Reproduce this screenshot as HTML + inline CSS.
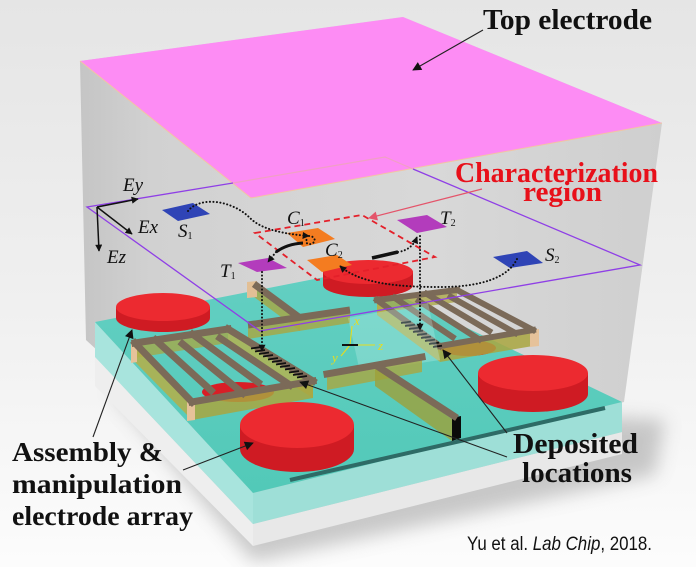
<!DOCTYPE html>
<html><head><meta charset="utf-8">
<style>
html,body{margin:0;padding:0;background:#f2f2f2;}
svg{display:block;}
</style></head>
<body>
<svg width="696" height="567" viewBox="0 0 696 567" xmlns="http://www.w3.org/2000/svg">
<defs>
 <linearGradient id="bg" x1="0" y1="0" x2="0" y2="1">
   <stop offset="0" stop-color="#e5e5e5"/>
   <stop offset="0.5" stop-color="#efefef"/>
   <stop offset="1" stop-color="#fcfcfc"/>
 </linearGradient>
 <linearGradient id="wall" x1="80" y1="0" x2="662" y2="0" gradientUnits="userSpaceOnUse">
   <stop offset="0" stop-color="#c5c5c5"/>
   <stop offset="0.12" stop-color="#d1d1d1"/>
   <stop offset="0.6" stop-color="#d8d8d8"/>
   <stop offset="1" stop-color="#cfcfcf"/>
 </linearGradient>
 <linearGradient id="cy" x1="0" y1="0" x2="0" y2="1">
   <stop offset="0" stop-color="#63cfc2"/>
   <stop offset="1" stop-color="#52c9b8"/>
 </linearGradient>
 <filter id="blur" x="-20%" y="-20%" width="140%" height="140%"><feGaussianBlur stdDeviation="9"/></filter>
 <marker id="ab" viewBox="0 0 10 10" refX="9" refY="5" markerWidth="11" markerHeight="9" markerUnits="userSpaceOnUse" orient="auto"><path d="M0,0 L10,5 L0,10 z" fill="#111"/></marker>
 <marker id="as" viewBox="0 0 10 10" refX="9" refY="5" markerWidth="8" markerHeight="7" markerUnits="userSpaceOnUse" orient="auto"><path d="M0,0 L10,5 L0,10 z" fill="#111"/></marker>
 <marker id="ap" viewBox="0 0 10 10" refX="9" refY="5" markerWidth="11" markerHeight="9" markerUnits="userSpaceOnUse" orient="auto"><path d="M0,0 L10,5 L0,10 z" fill="#e4546a"/></marker>
</defs>

<!-- background -->
<rect x="0" y="0" width="696" height="567" fill="url(#bg)"/>

<!-- shadow -->
<polygon points="110,390 253,562 655,475 665,420" fill="#8c8c8c" opacity="0.45" filter="url(#blur)"/>

<!-- box walls -->
<polygon points="80,61 403,17 662,123 624,402 253,493 86,340" fill="url(#wall)"/>

<!-- pink top electrode -->
<polygon points="80,61 403,17 662,123 251,198" fill="#fd8cf4"/>
<polyline points="80,61 251,198 662,123" fill="none" stroke="#f2c4a4" stroke-width="1"/>
<polyline points="233,183 385,157 413,169" fill="none" stroke="#f0a0c4" stroke-width="1.2"/>

<!-- slab -->
<polygon points="95,357 253,524 253,546 95,386" fill="#eeeeee"/>
<polygon points="253,524 622,432 622,454 253,546" fill="#e8e8e8"/>
<polygon points="95,322 253,493 253,524 95,357" fill="#a8e4dd"/>
<polygon points="253,493 622,402 622,432 253,524" fill="#9edfd7"/>
<polygon points="95,322 350,272 622,402 253,493" fill="url(#cy)"/>
<line x1="290" y1="480" x2="605" y2="408" stroke="#2e6b66" stroke-width="4"/>

<!-- back disc D2 -->
<path d="M323,272 L323,285 A45,12 0 0 0 413,285 L413,272 Z" fill="#cf1b23"/>
<ellipse cx="368" cy="272" rx="45" ry="12" fill="#ec2a30"/>

<!-- back T electrode -->
<polygon points="254,284 300,318 300,331 254,297" fill="#a9a640" opacity="0.8"/>
<polygon points="247,282 257,281 257,297 247,298" fill="#e2bf95"/>
<line x1="254" y1="284" x2="300" y2="318" stroke="#7b6a58" stroke-width="7"/>
<polygon points="248,325 350,310 350,323 248,339" fill="#aaa640" opacity="0.8"/>
<line x1="248" y1="325" x2="350" y2="310" stroke="#7b6a58" stroke-width="7"/>

<!-- right IDE -->
<ellipse cx="468" cy="348" rx="28" ry="8" fill="#d81e26"/>
<polygon points="377,300 457,290 457,302 377,313" fill="#a9a640" opacity="0.75"/>
<polygon points="377,300 440,346 440,362 377,315" fill="#b5ae48" opacity="0.85"/>
<polygon points="440,346 533,330 533,346 440,362" fill="#a9a640" opacity="0.85"/>
<polygon points="530,330 539,329 539,346 530,347" fill="#e6c29a"/>
<g stroke="#7b6a58" stroke-width="6" stroke-linecap="square" fill="none">
 <line x1="377" y1="300" x2="457" y2="290"/>
 <line x1="457" y1="290" x2="533" y2="330"/>
 <line x1="440" y1="346" x2="533" y2="330"/>
 <line x1="377" y1="300" x2="440" y2="346"/>
 <line x1="394.6" y1="297.8" x2="452.6" y2="337.1"/>
 <line x1="418.8" y1="301" x2="479.1" y2="339.3"/>
 <line x1="426.6" y1="293.8" x2="489.2" y2="331"/>
 <line x1="450.6" y1="296.8" x2="515.3" y2="333"/>
</g>
<path d="M401,323 l10,-1.4 M405,326 l10,-1.4 M409,329 l10,-1.4 M413,332 l10,-1.4 M417,335 l10,-1.4 M421,338 l10,-1.4 M425,341 l10,-1.4 M429,344 l10,-1.4 M433,347 l9,-1.3" stroke="#111" stroke-width="1.8"/>

<!-- left disc D1 -->
<path d="M116,307 L116,318 A47,14 0 0 0 210,318 L210,307 Z" fill="#cf1b23"/>
<ellipse cx="163" cy="307" rx="47" ry="14" fill="#ec2a30"/>

<!-- left IDE -->
<ellipse cx="238" cy="392" rx="36" ry="10" fill="#d81e26"/>
<polygon points="135,343 228,329 228,343 135,358" fill="#a9a640" opacity="0.75"/>
<polygon points="228,329 313,381 313,398 228,345" fill="#b8b24a" opacity="0.8"/>
<polygon points="135,343 192,402 192,420 135,362" fill="#b5ae48" opacity="0.85"/>
<polygon points="192,402 313,381 313,398 192,420" fill="#a9a640" opacity="0.85"/>
<polygon points="131,344 137,343 137,362 131,363" fill="#e6c29a"/>
<polygon points="187,402 195,401 195,420 187,421" fill="#e6c29a"/>
<g stroke="#7b6a58" stroke-width="7" stroke-linecap="square" fill="none">
 <line x1="135" y1="343" x2="228" y2="329"/>
 <line x1="228" y1="329" x2="313" y2="381"/>
 <line x1="192" y1="402" x2="313" y2="381"/>
 <line x1="135" y1="343" x2="192" y2="402"/>
 <line x1="155.5" y1="339.9" x2="211.1" y2="390.5"/>
 <line x1="182.4" y1="343.8" x2="242.9" y2="393.2"/>
 <line x1="192.7" y1="334.3" x2="258.2" y2="382.4"/>
 <line x1="220" y1="338.1" x2="290" y2="385"/>
</g>
<path d="M261,347 l-10,1.5 M265,350 l-10,1.5 M269,352.5 l-10,1.5 M273,355 l-10,1.5 M278,358 l-10,1.5 M282,360.5 l-10,1.5 M286,363 l-10,1.5 M290,365.5 l-10,1.5 M295,368 l-10,1.5 M299,371 l-10,1.5 M303,373.5 l-10,1.5 M307,376 l-10,1.5" stroke="#111" stroke-width="1.8"/>

<!-- center patch + axes -->
<polygon points="348,318 428,303 440,360 360,372" fill="#c4f0ea" opacity="0.3"/>
<g stroke="#e6dc1e" stroke-width="1.1" fill="none">
 <line x1="350" y1="345" x2="352" y2="326"/>
 <line x1="350" y1="345" x2="375" y2="345"/>
 <line x1="350" y1="345" x2="341" y2="356"/>
</g>
<line x1="342" y1="345" x2="358" y2="345" stroke="#111" stroke-width="2"/>
<g font-family="'Liberation Serif', serif" font-style="italic" font-size="13" fill="#e6dc1e">
 <text x="354" y="325">x</text>
 <text x="378" y="350">z</text>
 <text x="332" y="362">y</text>
</g>

<!-- front T electrode -->
<polygon points="327,374 422,357 422,372 327,390" fill="#aaa640" opacity="0.8"/>
<polygon points="375,366 452,419 452,441 375,386" fill="#9ea03a" opacity="0.8"/>
<polygon points="452,418 461,416 461,438 452,441" fill="#0a0a0a"/>
<line x1="327" y1="374" x2="422" y2="357" stroke="#7b6a58" stroke-width="7" stroke-linecap="square"/>
<line x1="377" y1="366" x2="457" y2="418" stroke="#7b6a58" stroke-width="7"/>

<!-- right disc D3 -->
<path d="M478,373 L478,394 A55,18 0 0 0 588,394 L588,373 Z" fill="#cf1b23"/>
<ellipse cx="533" cy="373" rx="55" ry="18" fill="#ec2a30"/>

<!-- front disc D4 -->
<path d="M240,425 L240,449 A57,23 0 0 0 354,449 L354,425 Z" fill="#cf1b23"/>
<ellipse cx="297" cy="425" rx="57" ry="23" fill="#ec2a30"/>

<!-- characterization plane -->
<polyline points="233,183 87,207 260,331 640,265 413,169" fill="none" stroke="#8f3fe6" stroke-width="1.3"/>

<!-- squares on plane -->
<polygon points="162,210 193,203 210,214 178,221" fill="#2f44b6"/>
<polygon points="493,257 527,251 543,263 510,268" fill="#2f44b6"/>
<polygon points="238,263 268,258 287,268 257,272" fill="#b33cbc"/>
<polygon points="397,220 427,215 447,227 417,233" fill="#b33cbc"/>
<polygon points="287,233 318,228 335,239 303,247" fill="#f47c20"/>
<polygon points="307,260 337,255 352,265 322,272" fill="#f47c20"/>

<!-- characterization region dashed -->
<polygon points="255,233 362,215 435,257 317,280" fill="none" stroke="#e4202a" stroke-width="1.8" stroke-dasharray="6 4"/>

<!-- dotted paths -->
<g fill="none" stroke="#111" stroke-width="2" stroke-dasharray="0.1 3.4" stroke-linecap="round">
 <path d="M188,211 C200,196 232,200 250,218 C262,230 285,234 309,236" marker-end="url(#as)"/>
 <path d="M309,236 c6,0 8,6 2,8 c-4,1 -6,-2 -4,-5"/>
 <path d="M276,252 L268,262" marker-end="url(#as)"/>
 <path d="M262,272 L262,351" marker-end="url(#as)"/>
 <path d="M398,252 Q412,250 417,237" marker-end="url(#as)"/>
 <path d="M420,236 L420,330" marker-end="url(#as)"/>
 <path d="M517,259 C508,278 480,287 440,287 C400,287 360,284 340,266" marker-end="url(#as)"/>
</g>
<path d="M303,243 Q287,244 276,252" fill="none" stroke="#111" stroke-width="3"/>
<path d="M372,258 L398,252" fill="none" stroke="#111" stroke-width="3.5"/>

<!-- E axes -->
<g stroke="#111" stroke-width="1.5" fill="none">
 <line x1="97" y1="207" x2="138" y2="199" marker-end="url(#as)"/>
 <line x1="97" y1="207" x2="132" y2="234" marker-end="url(#as)"/>
 <line x1="97" y1="207" x2="99" y2="251" marker-end="url(#as)"/>
</g>

<!-- math labels -->
<g font-family="'Liberation Serif', serif" font-style="italic" font-size="19" fill="#111">
 <text x="123" y="191">Ey</text>
 <text x="138" y="233">Ex</text>
 <text x="107" y="263">Ez</text>
 <text x="178" y="237">S<tspan font-size="10" font-style="normal" dy="2">1</tspan></text>
 <text x="220" y="277">T<tspan font-size="10" font-style="normal" dy="2">1</tspan></text>
 <text x="287" y="224">C<tspan font-size="10" font-style="normal" dy="2">1</tspan></text>
 <text x="325" y="256">C<tspan font-size="10" font-style="normal" dy="2">2</tspan></text>
 <text x="440" y="224">T<tspan font-size="10" font-style="normal" dy="2">2</tspan></text>
 <text x="545" y="261">S<tspan font-size="10" font-style="normal" dy="2">2</tspan></text>
</g>

<!-- label arrows -->
<g stroke="#222" stroke-width="1.1" fill="none">
 <line x1="483" y1="30" x2="413" y2="70" marker-end="url(#ab)"/>
 <line x1="93" y1="437" x2="132" y2="330" marker-end="url(#ab)"/>
 <line x1="183" y1="470" x2="253" y2="443" marker-end="url(#ab)"/>
 <line x1="507" y1="457" x2="300" y2="382" marker-end="url(#ab)"/>
 <line x1="507" y1="433" x2="443" y2="350" marker-end="url(#ab)"/>
</g>
<line x1="482" y1="189" x2="369" y2="218" stroke="#e4546a" stroke-width="1.2" marker-end="url(#ap)"/>

<!-- text labels -->
<g font-family="'Liberation Serif', serif" font-weight="bold" font-size="28" fill="#111">
 <text x="483" y="29" textLength="169" lengthAdjust="spacingAndGlyphs">Top electrode</text>
 <text x="513" y="453" textLength="125" lengthAdjust="spacingAndGlyphs">Deposited</text>
 <text x="522" y="482" textLength="110" lengthAdjust="spacingAndGlyphs">locations</text>
 <text x="12" y="461" font-size="27" textLength="151" lengthAdjust="spacingAndGlyphs">Assembly &amp;</text>
 <text x="12" y="493" font-size="27" textLength="170" lengthAdjust="spacingAndGlyphs">manipulation</text>
 <text x="12" y="525" font-size="27" textLength="181" lengthAdjust="spacingAndGlyphs">electrode array</text>
</g>
<g font-family="'Liberation Serif', serif" font-weight="bold" font-size="28" fill="#e8101a">
 <text x="455" y="182" textLength="203" lengthAdjust="spacingAndGlyphs">Characterization</text>
 <text x="523" y="201" textLength="79" lengthAdjust="spacingAndGlyphs">region</text>
</g>
<text x="467" y="550" font-family="'Liberation Sans', sans-serif" font-size="19" fill="#111" textLength="185" lengthAdjust="spacingAndGlyphs">Yu et al. <tspan font-style="italic">Lab Chip</tspan>, 2018.</text>
</svg>
</body></html>
